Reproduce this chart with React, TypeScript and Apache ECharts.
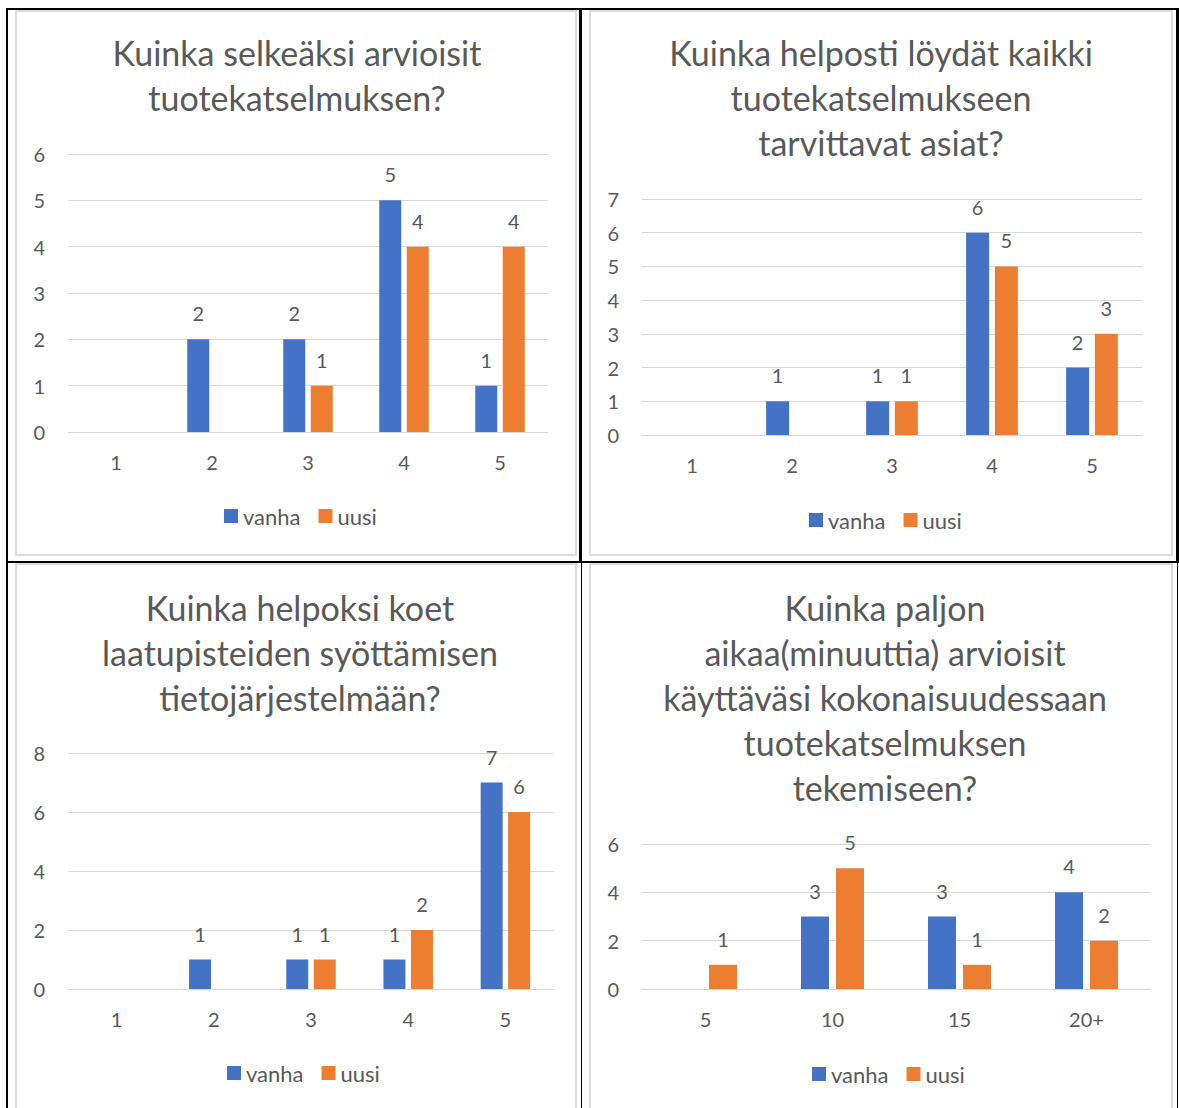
import React, { useEffect, useRef } from "react";
import * as echarts from "echarts";

// ---- Data ----
const title1 = "Kuinka selkeäksi arvioisit\ntuotekatselmuksen?";
const cats1 = ["1", "2", "3", "4", "5"];
const vanha1 = [null, 2, 2, 5, 1];
const uusi1 = [null, null, 1, 4, 4];

const title2 = "Kuinka helposti löydät kaikki\ntuotekatselmukseen\ntarvittavat asiat?";
const cats2 = ["1", "2", "3", "4", "5"];
const vanha2 = [null, 1, 1, 6, 2];
const uusi2 = [null, null, 1, 5, 3];

const title3 = "Kuinka helpoksi koet\nlaatupisteiden syöttämisen\ntietojärjestelmään?";
const cats3 = ["1", "2", "3", "4", "5"];
const vanha3 = [null, 1, 1, 1, 7];
const uusi3 = [null, null, 1, 2, 6];

const title4 =
  "Kuinka paljon\naikaa(minuuttia) arvioisit\nkäyttäväsi kokonaisuudessaan\ntuotekatselmuksen\ntekemiseen?";
const cats4 = ["5", "10", "15", "20+"];
const vanha4 = [null, 3, 3, 4];
const uusi4 = [1, 5, 1, 2];

const seriesNames = ["vanha", "uusi"];

const TEXT = "#595959";
const FONT = 'Lato, "Open Sans", sans-serif';
const BLUE = "#4472C4";
const ORANGE = "#ED7D31";
const GRID = "#d9d9d9";

export default function App() {
  const ref = useRef<HTMLDivElement>(null);

  useEffect(() => {
    if (!ref.current) return;
    const chart = echarts.init(ref.current, null, { renderer: "svg" });

    const panels = [
      { title: title1, tx: 297, ty: 30, cats: cats1, v: vanha1, u: uusi1, grid: { left: 68, top: 154, width: 480, height: 278 }, max: 6, interval: 1, bw: 22, lx: 224, ly: 505 },
      { title: title2, tx: 881, ty: 30, cats: cats2, v: vanha2, u: uusi2, grid: { left: 642, top: 199, width: 500, height: 236 }, max: 7, interval: 1, bw: 23, lx: 809, ly: 509 },
      { title: title3, tx: 300, ty: 585, cats: cats3, v: vanha3, u: uusi3, grid: { left: 68, top: 753, width: 486, height: 236 }, max: 8, interval: 2, bw: 22, lx: 227, ly: 1062 },
      { title: title4, tx: 885, ty: 585, cats: cats4, v: vanha4, u: uusi4, grid: { left: 642, top: 844, width: 508, height: 145 }, max: 6, interval: 2, bw: 28, lx: 812, ly: 1063 },
    ];

    const titles: any[] = [];
    const grids: any[] = [];
    const xAxes: any[] = [];
    const yAxes: any[] = [];
    const legends: any[] = [];
    const series: any[] = [];

    panels.forEach((p, i) => {
      titles.push({
        text: p.title,
        left: p.tx,
        top: p.ty,
        textAlign: "center",
        padding: 0,
        textStyle: { fontFamily: FONT, fontSize: 34, fontWeight: "normal", color: TEXT, lineHeight: 45 },
      });
      grids.push({ ...p.grid, containLabel: false });
      xAxes.push({
        type: "category",
        gridIndex: i,
        data: p.cats,
        axisLine: { lineStyle: { color: GRID, width: 1 } },
        axisTick: { show: false },
        axisLabel: { color: TEXT, fontSize: 20, fontFamily: FONT, margin: 20 },
      });
      yAxes.push({
        type: "value",
        gridIndex: i,
        min: 0,
        max: p.max,
        interval: p.interval,
        axisLine: { show: false },
        axisTick: { show: false },
        splitLine: { lineStyle: { color: GRID, width: 1 } },
        axisLabel: { color: TEXT, fontSize: 20, fontFamily: FONT, margin: 23 },
      });
      legends.push({
        data: seriesNames,
        left: p.lx,
        top: p.ly,
        padding: 0,
        icon: "rect",
        itemWidth: 14,
        itemHeight: 14,
        itemGap: 18,
        textStyle: { color: TEXT, fontSize: 22, fontFamily: FONT },
      });
      const label = { show: true, position: "top", distance: 16, color: TEXT, fontSize: 20, fontFamily: FONT };
      series.push({
        name: seriesNames[0],
        type: "bar",
        xAxisIndex: i,
        yAxisIndex: i,
        data: p.v,
        barWidth: p.bw,
        barGap: "25%",
        itemStyle: { color: BLUE },
        label,
      });
      series.push({
        name: seriesNames[1],
        type: "bar",
        xAxisIndex: i,
        yAxisIndex: i,
        data: p.u,
        barWidth: p.bw,
        barGap: "25%",
        itemStyle: { color: ORANGE },
        label,
      });
    });

    const frame = (x: number, y: number, w: number, h: number) => ({
      type: "rect",
      shape: { x, y, width: w, height: h },
      style: { fill: "none", stroke: "#dcdcdc", lineWidth: 2 },
      silent: true,
      z: -1,
    });
    const blk = (x: number, y: number, w: number, h: number) => ({
      type: "rect",
      shape: { x, y, width: w, height: h },
      style: { fill: "#000" },
      silent: true,
      z: 10,
    });

    chart.setOption({
      animation: false,
      backgroundColor: "#ffffff",
      title: titles,
      grid: grids,
      xAxis: xAxes,
      yAxis: yAxes,
      legend: legends,
      series,
      graphic: [
        frame(16, 11, 560, 544),
        frame(590, 11, 582, 544),
        frame(16, 564, 560, 560),
        frame(590, 564, 582, 560),
        blk(6, 8, 2, 1100),
        blk(6, 8, 1173, 2),
        blk(579, 8, 3, 554),
        blk(581, 562, 1, 546),
        blk(1176, 8, 3, 554),
        blk(1177, 562, 1, 546),
        blk(6, 561, 1173, 2),
      ],
    });

    return () => chart.dispose();
  }, []);

  return (
    <div
      ref={ref}
      style={{ position: "absolute", left: 0, top: 0, width: 1179, height: 1108, background: "#fff" }}
    />
  );
}
